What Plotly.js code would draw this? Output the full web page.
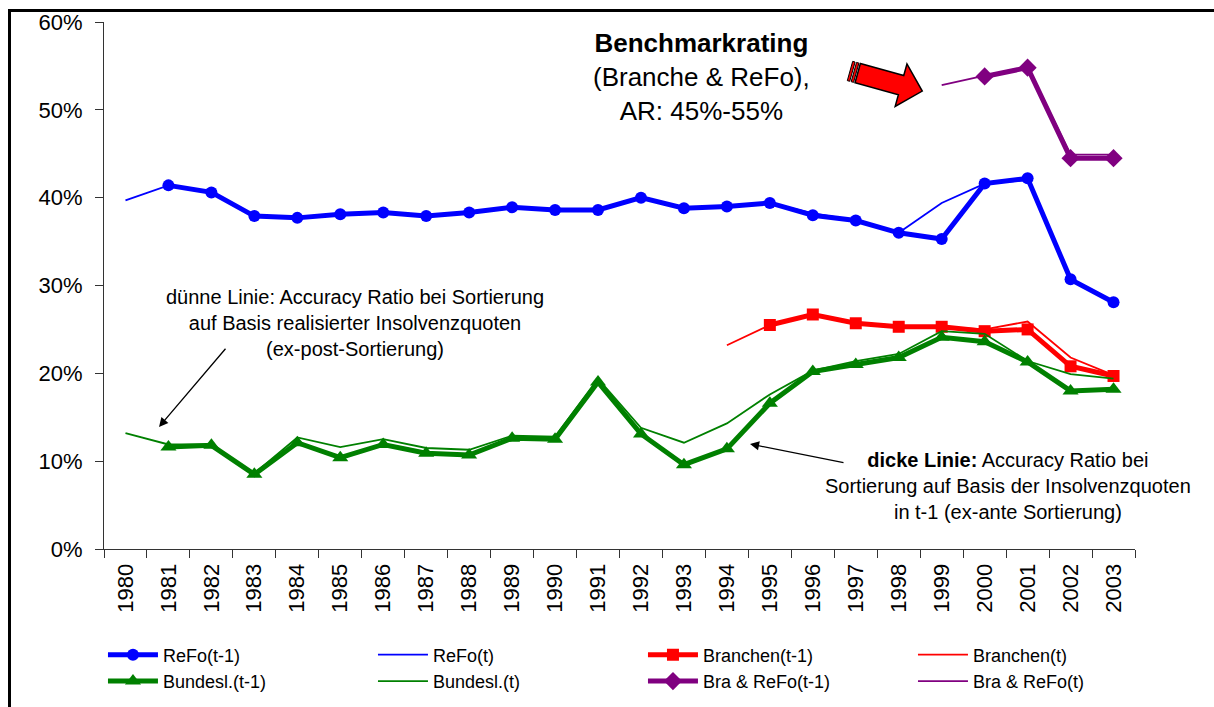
<!DOCTYPE html>
<html><head><meta charset="utf-8">
<script src="https://cdn.plot.ly/plotly-3.0.1.min.js"></script>
<style>
body{margin:0;background:#fff}
#wrap{position:relative;width:1214px;height:707px}
#frame{position:absolute;left:8px;top:9px;right:0;bottom:0;border-left:3px solid #000;border-top:3px solid #000;pointer-events:none}
</style>
</head><body>
<div id="wrap"><div id="chart" style="width:1214px;height:707px"></div><div id="frame"></div></div>
<script>
const years = ['1980','1981','1982','1983','1984','1985','1986','1987','1988','1989','1990','1991','1992','1993','1994','1995','1996','1997','1998','1999','2000','2001','2002','2003'];
const refoT1 = [null,41.4,40.6,37.9,37.7,38.1,38.3,37.9,38.3,38.9,38.6,38.6,40.0,38.8,39.0,39.4,38.0,37.4,36.0,35.3,41.6,42.2,30.7,28.1];
const refoT  = [39.7,41.4,40.6,37.9,37.7,38.1,38.3,37.9,38.3,38.9,38.6,38.6,40.0,38.8,39.0,39.4,38.2,37.4,36.0,39.4,41.6,42.0,30.8,28.2];
const branT1 = [null,null,null,null,null,null,null,null,null,null,null,null,null,null,null,25.5,26.7,25.7,25.3,25.3,24.8,25.0,20.8,19.7];
const branT  = [null,null,null,null,null,null,null,null,null,null,null,null,null,null,23.2,25.5,26.8,25.8,25.4,25.3,25.0,25.9,21.8,19.8];
const bundT1 = [null,11.6,11.8,8.5,12.1,10.4,11.9,10.9,10.7,12.6,12.5,19.0,13.1,9.6,11.4,16.6,20.2,21.0,21.8,24.1,23.6,21.3,18.0,18.2];
const bundT  = [13.2,11.9,11.9,8.6,12.7,11.6,12.5,11.5,11.3,12.9,12.8,19.4,13.8,12.1,14.3,17.6,20.3,21.4,22.2,24.8,24.5,21.4,19.9,19.4];
const braT1  = [null,null,null,null,null,null,null,null,null,null,null,null,null,null,null,null,null,null,null,null,53.8,54.8,44.5,44.5];
const braT   = [null,null,null,null,null,null,null,null,null,null,null,null,null,null,null,null,null,null,null,52.8,53.9,54.9,44.9,44.9];
const names = ['ReFo(t-1)','ReFo(t)','Branchen(t-1)','Branchen(t)','Bundesl.(t-1)','Bundesl.(t)','Bra & ReFo(t-1)','Bra & ReFo(t)'];

const BLUE='#0000FF', RED='#FF0000', GREEN='#008000', PURPLE='#800080';
function thick(y,name,color,symbol,size){
  return {x:years,y:y,name:name,type:'scatter',mode:'lines+markers',
    line:{color:color,width:5},marker:{color:color,symbol:symbol,size:size},hoverinfo:'skip'};
}
function thin(y,name,color){
  return {x:years,y:y,name:name,type:'scatter',mode:'lines',line:{color:color,width:1.8},hoverinfo:'skip'};
}
const data = [
  thick(refoT1,names[0],BLUE,'circle',12),
  thin(refoT,names[1],BLUE),
  thick(branT1,names[2],RED,'square',12),
  thin(branT,names[3],RED),
  thick(bundT1,names[4],GREEN,'triangle-up',14),
  thin(bundT,names[5],GREEN),
  thick(braT1,names[6],PURPLE,'diamond',14),
  thin(braT,names[7],PURPLE)
];

const L=104, R=79, T=22, B=158, W=1214-L-R, H=707-T-B;
const px = x => (x-L)/W;
const py = y => (707-B-y)/H;

// decorative block arrow
const ang = Math.atan2(20,72), c=Math.cos(ang), s=Math.sin(ang);
const C=[850,71];
function pt(u,v){ const X=C[0]+u*c - v*s, Y=C[1]+u*s + v*c; return px(X).toFixed(5)+','+py(Y).toFixed(5); }
function poly(arr){ return 'M'+arr.map(p=>pt(p[0],p[1])).join('L')+'Z'; }
const arrowBody = poly([[8,-10],[53,-10],[53,-22],[75,0],[53,22],[53,10],[8,10]]);
const stripe1 = poly([[0,-10],[2.5,-10],[2.5,10],[0,10]]);
const stripe2 = poly([[4,-10],[6.5,-10],[6.5,10],[4,10]]);

const FONT='Liberation Sans, Arial, sans-serif';
const layout = {
  width:1214,height:707,
  margin:{l:L,r:R,t:T,b:B,autoexpand:false},
  paper_bgcolor:'#fff',plot_bgcolor:'#fff',
  font:{family:FONT,color:'#000'},
  showlegend:true,
  legend:{orientation:'h',x:-0.001,xanchor:'left',y:-0.166,yanchor:'top',
    font:{family:FONT,size:18,color:'#000'},itemwidth:50,entrywidth:205,entrywidthmode:'pixels',
    tracegroupgap:0,bgcolor:'rgba(0,0,0,0)'},
  xaxis:{type:'category',range:[-0.5,23.5],tickangle:-90,tickson:'boundaries',ticks:'outside',ticklen:8,
    tickcolor:'#333',showline:true,linecolor:'#333',linewidth:1,showgrid:false,zeroline:false,automargin:false,
    tickfont:{family:FONT,size:22,color:'#000'},ticklabelstandoff:5,fixedrange:true},
  yaxis:{range:[0,60],dtick:10,ticksuffix:'%',ticks:'outside',ticklen:8,tickcolor:'#333',automargin:false,
    showline:true,linecolor:'#333',linewidth:1,showgrid:false,zeroline:false,
    tickfont:{family:FONT,size:22,color:'#000'},ticklabelstandoff:8,fixedrange:true},
  shapes:[
    {type:'path',xref:'paper',yref:'paper',path:arrowBody,fillcolor:RED,line:{color:'#000',width:1.5}},
    {type:'path',xref:'paper',yref:'paper',path:stripe1,fillcolor:RED,line:{color:'#000',width:1}},
    {type:'path',xref:'paper',yref:'paper',path:stripe2,fillcolor:RED,line:{color:'#000',width:1}}
  ],
  annotations:[
    {xref:'paper',yref:'paper',x:px(355),y:py(323),xanchor:'center',yanchor:'middle',showarrow:false,
     align:'center',font:{family:FONT,size:20,color:'#000'},
     text:'dünne Linie: Accuracy Ratio bei Sortierung<br>auf Basis realisierter Insolvenzquoten<br>(ex-post-Sortierung)'},
    {xref:'paper',yref:'paper',x:px(1008),y:py(486),xanchor:'center',yanchor:'middle',showarrow:false,
     align:'center',font:{family:FONT,size:20,color:'#000'},
     text:'<b>dicke Linie:</b> Accuracy Ratio bei<br>Sortierung auf Basis der Insolvenzquoten<br>in t-1 (ex-ante Sortierung)'},
    {xref:'paper',yref:'paper',x:px(701),y:py(77),xanchor:'center',yanchor:'middle',showarrow:false,
     align:'center',font:{family:FONT,size:26,color:'#000'},
     text:'<b>Benchmarkrating</b><br>(Branche & ReFo),<br>AR: 45%-55%'},
    {xref:'paper',yref:'paper',x:px(159),y:py(427),text:' ',font:{size:1},showarrow:true,
     ax:68,ay:-80,arrowhead:2,arrowsize:1.4,arrowwidth:1.3,arrowcolor:'#000',standoff:0,startstandoff:0},
    {xref:'paper',yref:'paper',x:px(750),y:py(444),text:' ',font:{size:1},showarrow:true,
     ax:95,ay:19,arrowhead:2,arrowsize:1.4,arrowwidth:1.3,arrowcolor:'#000',standoff:0,startstandoff:0}
  ]
};
Plotly.newPlot('chart',data,layout,{staticPlot:true,displayModeBar:false});
</script>
</body></html>
